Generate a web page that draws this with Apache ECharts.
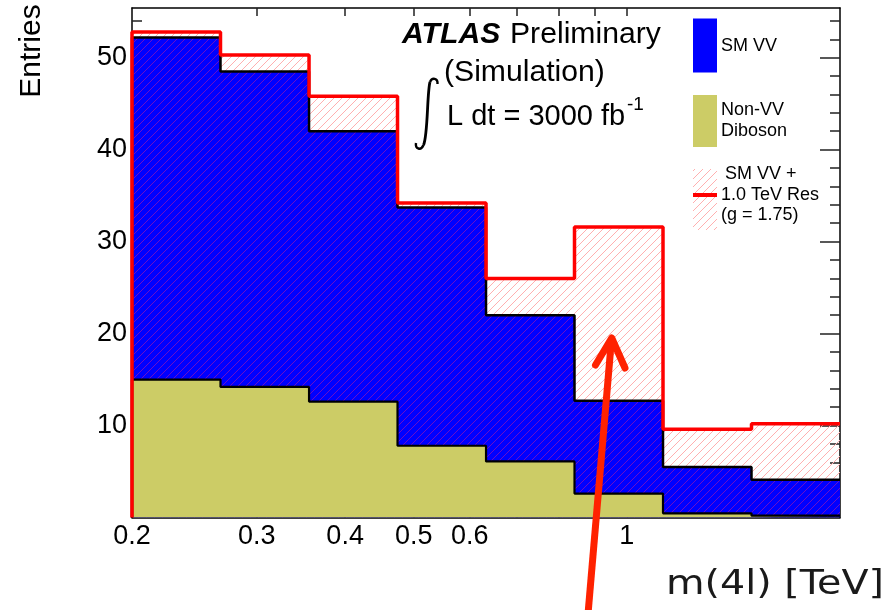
<!DOCTYPE html>
<html>
<head>
<meta charset="utf-8">
<script src="https://cdn.jsdelivr.net/npm/echarts@6/dist/echarts.min.js"></script>
<style>
html,body{margin:0;padding:0;background:#fff;}
#chart{width:885px;height:610px;}
</style>
</head>
<body>
<div id="chart"></div>
<script>
// ---- data ----
const binEdgesTeV = [0.2, 0.2667, 0.3557, 0.4743, 0.6325, 0.8434, 1.1247, 1.4998, 2.0];
const smVV        = [52.2, 48.5, 42.0, 33.7, 22.0, 12.7, 5.5, 4.1];
const nonVVDiboson = [15.0, 14.2, 12.6, 7.8, 6.1, 2.6, 0.45, 0.2];
const smVVPlusRes = [52.8, 50.3, 45.8, 34.2, 26.0, 31.6, 9.6, 10.2];

const xTickValues  = [0.3, 0.4, 0.5, 0.6, 0.7, 0.8, 0.9, 1];
const xLabelValues = [0.2, 0.3, 0.4, 0.5, 0.6, 1];
const yMajorTicks  = [10, 20, 30, 40, 50];
const yMinorTicks  = [2, 4, 6, 8, 12, 14, 16, 18, 22, 24, 26, 28, 32, 34, 36, 38, 42, 44, 46, 48, 52, 54];
const yMax = 55.4;

const lg = Math.log10;
const xMin = lg(binEdgesTeV[0]);
const xMax = lg(binEdgesTeV[binEdgesTeV.length - 1]);

function stepData(vals) {
  const pts = [[lg(binEdgesTeV[0]), 0]];
  vals.forEach((v, i) => pts.push([lg(binEdgesTeV[i]), v]));
  pts.push([lg(binEdgesTeV[binEdgesTeV.length - 1]), vals[vals.length - 1]]);
  return pts;
}
// [x0, x1, top of hatch, top of SM VV]
function binData(tops, under) {
  return tops.map((v, i) => [lg(binEdgesTeV[i]), lg(binEdgesTeV[i + 1]), v, under[i]]);
}

const HATCH_ON_WHITE = '#ffb0b0';
const HATCH_ON_BLUE = '#6a10c8';
const HATCH_STEP = 8;
// "/" hatch lines (x + y = const) clipped to a pixel rectangle
function hatchLines(L, T, R, B, color) {
  const out = [];
  if (B - T < 0.5) return out;
  const kStart = Math.ceil((L + T) / HATCH_STEP), kEnd = Math.floor((R + B) / HATCH_STEP);
  for (let k = kStart; k <= kEnd; k++) {
    const c = k * HATCH_STEP;
    const xa = Math.max(L, c - B), xb = Math.min(R, c - T);
    if (xb <= xa) continue;
    out.push({type: 'line', shape: {x1: xa, y1: c - xa, x2: xb, y2: c - xb}, style: {stroke: color, lineWidth: 1}});
  }
  return out;
}

const FONT = '"Liberation Sans", Arial, Helvetica, sans-serif';
const chart = echarts.init(document.getElementById('chart'), null, {renderer: 'canvas'});

const fmtX = v => String(Math.round(Math.pow(10, v) * 10) / 10);

function xAx(pos, labels) {
  return {
    type: 'value', position: pos, min: xMin, max: xMax,
    axisLine: {show: true, onZero: false, lineStyle: {color: '#000', width: 1.5}},
    axisTick: {show: true, inside: true, length: 8, customValues: xTickValues.map(lg), lineStyle: {color: '#222', width: 1.5}},
    axisLabel: labels ? {show: true, customValues: xLabelValues.map(lg), formatter: fmtX, fontSize: 27, fontFamily: FONT, color: '#000', margin: 6} : {show: false},
    splitLine: {show: false}
  };
}
function yAx(pos, ticks, len, labels, line) {
  return {
    type: 'value', position: pos, min: 0, max: yMax,
    axisLine: {show: line, onZero: false, lineStyle: {color: '#000', width: 1.5}},
    axisTick: {show: true, inside: true, length: len, customValues: ticks, lineStyle: {color: '#222', width: 1.5}},
    axisLabel: labels ? {show: true, customValues: yMajorTicks, fontSize: 27, fontFamily: FONT, color: '#000', margin: 5} : {show: false},
    splitLine: {show: false}
  };
}

const lineBase = {type: 'line', step: 'end', symbol: 'none', animation: false, xAxisIndex: 0, yAxisIndex: 0};

function txt(x, y, text, font, extra) {
  return Object.assign({type: 'text', x: x, y: y, style: {text: text, font: font, fill: '#000', align: 'left', verticalAlign: 'middle'}}, extra || {});
}

const option = {
  animation: false,
  backgroundColor: '#fff',
  grid: {left: 132, right: 45, top: 8, bottom: 92.5, containLabel: false},
  xAxis: [xAx('bottom', true), xAx('top', false)],
  yAxis: [
    yAx('left', yMajorTicks, 20, true, true),
    yAx('left', yMinorTicks, 10, false, false),
    yAx('right', yMajorTicks, 20, false, true),
    yAx('right', yMinorTicks, 10, false, false)
  ],
  series: [
    Object.assign({}, lineBase, {name: 'SM VV', z: 2, data: stepData(smVV), lineStyle: {width: 0}, areaStyle: {color: '#0000ff', opacity: 1}}),
    {
      type: 'custom', name: 'SM VV + Res hatch', z: 3, animation: false, clip: true,
      xAxisIndex: 0, yAxisIndex: 0,
      encode: {x: [0, 1], y: 2},
      data: binData(smVVPlusRes, smVV),
      renderItem: function (params, api) {
        const pTop = api.coord([api.value(0), api.value(2)]);
        const pMid = api.coord([api.value(1), api.value(3)]);
        const pBot = api.coord([api.value(1), 0]);
        const L = pTop[0], R = pMid[0];
        const children = hatchLines(L, pTop[1], R, pMid[1], HATCH_ON_WHITE)
          .concat(hatchLines(L, pMid[1], R, pBot[1], HATCH_ON_BLUE));
        return {type: 'group', children: children};
      }
    },
    Object.assign({}, lineBase, {name: 'Non-VV Diboson', z: 4, data: stepData(nonVVDiboson), lineStyle: {width: 0}, areaStyle: {color: '#cccc66', opacity: 1}}),
    Object.assign({}, lineBase, {name: 'SM VV outline', z: 5, data: stepData(smVV), lineStyle: {color: '#000', width: 2.5}}),
    Object.assign({}, lineBase, {name: 'Non-VV outline', z: 5, data: stepData(nonVVDiboson), lineStyle: {color: '#000', width: 2.2}}),
    Object.assign({}, lineBase, {name: 'SM VV + 1.0 TeV Res', z: 6, data: stepData(smVVPlusRes), lineStyle: {color: '#ff0000', width: 3.5}})
  ],
  graphic: [
    {type: 'text', x: 32, y: 51, rotation: Math.PI / 2, style: {text: 'Entries', font: '30px ' + FONT, fill: '#000', align: 'center', verticalAlign: 'middle'}},
    {type: 'text', x: 884, y: 585, scaleX: 1.2, style: {text: 'm(4l) [TeV]', font: '33px "DejaVu Sans", sans-serif', fill: '#1a1a1a', align: 'right', verticalAlign: 'middle'}},
    txt(402, 35, 'ATLAS', 'italic bold 29px ' + FONT, {scaleX: 1.04}),
    txt(510, 35, 'Preliminary', '29px ' + FONT, {scaleX: 1.04}),
    txt(444, 73, '(Simulation)', '29px ' + FONT, {scaleX: 1.04}),
    txt(447, 117, 'L dt = 3000 fb', '29px ' + FONT),
    txt(627, 105, '-1', '19px ' + FONT),
    {type: 'bezierCurve', shape: {x1: 437.5, y1: 84, x2: 430, y2: 82, cpx1: 438, cpy1: 78, cpx2: 432, cpy2: 77}, style: {stroke: '#000', fill: 'none', lineWidth: 2.4}},
    {type: 'bezierCurve', shape: {x1: 430, y1: 82, x2: 423.5, y2: 145, cpx1: 427, cpy1: 92, cpx2: 428, cpy2: 136}, style: {stroke: '#000', fill: 'none', lineWidth: 2.8}},
    {type: 'bezierCurve', shape: {x1: 423.5, y1: 145, x2: 416, y2: 143, cpx1: 421, cpy1: 151, cpx2: 415, cpy2: 149}, style: {stroke: '#000', fill: 'none', lineWidth: 2.4}},
    {type: 'rect', shape: {x: 693, y: 18.5, width: 24, height: 54}, style: {fill: '#0000ff'}},
    txt(721, 46, 'SM VV', '18px ' + FONT),
    {type: 'rect', shape: {x: 693, y: 95, width: 24, height: 52}, style: {fill: '#cccc66'}},
    txt(721, 110, 'Non-VV', '18px ' + FONT),
    txt(721, 131, 'Diboson', '18px ' + FONT),
    {type: 'group', children: hatchLines(693, 169, 717, 230, HATCH_ON_WHITE)},
    {type: 'line', shape: {x1: 693, y1: 195, x2: 717, y2: 195}, style: {stroke: '#ff0000', lineWidth: 4}},
    txt(725, 174, 'SM VV +', '18px ' + FONT),
    txt(721, 195, '1.0 TeV Res', '18px ' + FONT),
    txt(721, 215, '(g = 1.75)', '18px ' + FONT),
    {type: 'line', z: 100, shape: {x1: 588, y1: 614, x2: 611.5, y2: 339}, style: {stroke: '#ff2200', lineWidth: 7}},
    {type: 'polyline', z: 100, shape: {points: [[595.5, 365], [611.7, 338], [625, 368]]}, style: {stroke: '#ff2200', fill: 'none', lineWidth: 7, lineCap: 'round', lineJoin: 'round'}}
  ]
};
chart.setOption(option);
</script>
</body>
</html>
